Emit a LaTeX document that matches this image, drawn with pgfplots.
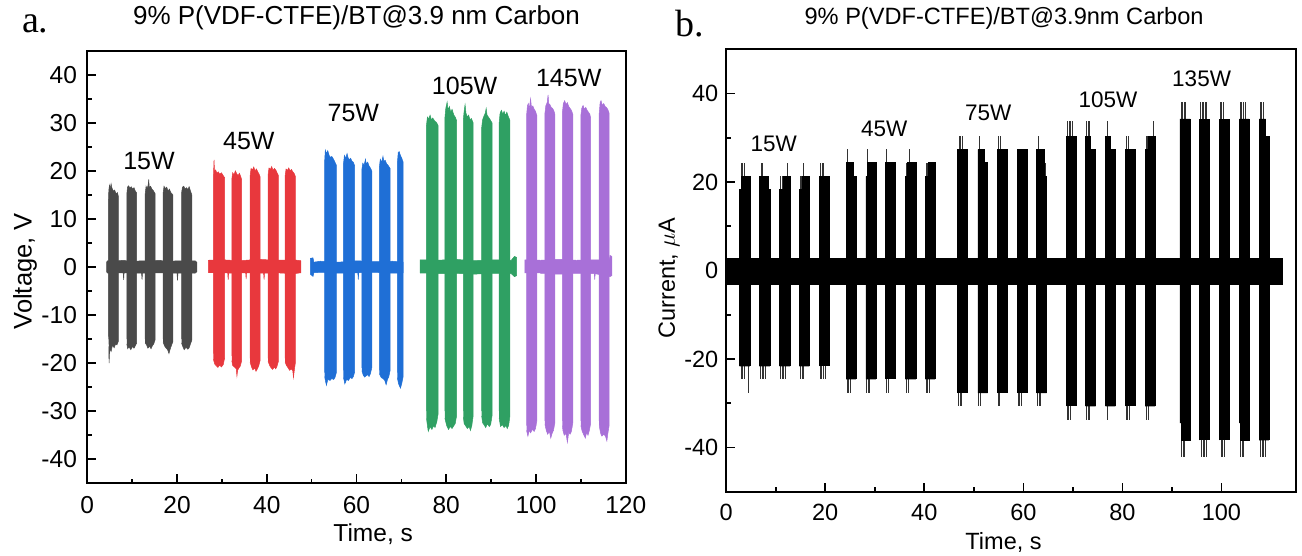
\documentclass[border=0pt]{standalone}
\usepackage{fontspec}
\setmainfont{Liberation Sans}
\newfontfamily\panelserif{Liberation Serif}
\usepackage{pgfplots}
\pgfplotsset{compat=1.18}

\definecolor{cgray}{HTML}{4A4A4A}
\definecolor{cred}{HTML}{E8383D}
\definecolor{cblue}{HTML}{1F6FD6}
\definecolor{cgreen}{HTML}{2FA063}
\definecolor{cpurple}{HTML}{A870D8}

\newcommand\fs[1]{\fontsize{#1}{#1}\selectfont}

\pgfplotsset{
  panel/.style={
    scale only axis, anchor=south west,
    axis line style={line width=0.9pt},
    tick align=inside, tick pos=left,
    major tick length=4.5pt, minor tick length=2.2pt,
    every tick/.style={black, line width=0.8pt},
    /pgf/number format/assume math mode=true,
    minor x tick num=1, minor y tick num=1,
  },
  burst/.style={fill=#1, draw=#1, line width=0.25pt},
  thin/.style={ycomb, black!80, line width=0.35pt},
}

\begin{document}
\begin{tikzpicture}
\useasboundingbox (0,0) rectangle (651pt,278pt);

\node[anchor=base west, inner sep=0pt, font=\panelserif\fs{19}] at (10.85pt,261.5pt) {a.};
\node[anchor=base west, inner sep=0pt, font=\panelserif\fs{19}] at (337.5pt,259.65pt) {b.};

% ---------------- panel a: voltage ----------------
\begin{axis}[panel, at={(43.65pt,36.35pt)}, width=269.2pt, height=216.3pt,
  xmin=0, xmax=120, ymin=-45, ymax=45,
  xtick={0,20,...,120}, ytick={-40,-30,...,40},
  xticklabel style={font=\fs{12.25}, inner sep=0pt, anchor=north, yshift=-6.5pt},
  yticklabel style={font=\fs{12.25}, inner sep=0pt, anchor=east, xshift=-5pt},
  title={9\% P(VDF-CTFE)/BT@3.9 nm Carbon},
  title style={font=\fs{13}, at={(0.5,1)}, anchor=base, yshift=7pt},
  xlabel={Time, s},
  xlabel style={font=\fs{12.25}, at={(axis description cs:0.531,0)}, anchor=base, yshift=-29.2pt},
  ylabel={Voltage, V},
  ylabel style={font=\fs{12.75}, at={(axis description cs:-0.1033,0.49)}, rotate=0, anchor=base},
]
% 15W
\addplot[burst=cgray] coordinates {(4.3,-1.1)(4.3,1.0)(4.5,1.3)(6.0,1.2)(8.0,1.4)(10.0,1.1)(12.0,1.3)(14.0,1.2)(16.0,1.4)(18.0,1.1)(20.0,1.3)(22.0,1.2)(24.0,1.3)(24.4,1.0)(24.4,-1.0)(24.0,-1.3)(22.0,-1.2)(20.2,-1.3)(20.1,-2.8)(20.0,-1.3)(16.0,-1.2)(12.3,-1.3)(12.2,-2.6)(12.1,-1.3)(8.2,-1.2)(8.1,-2.7)(8.0,-1.2)(4.5,-1.3)};
\addplot[burst=cgray] coordinates {(4.7,-14.5)(4.7,13.5)(4.8,16.0)(4.95,17.0)(5.1,16.2)(5.3,17.3)(5.5,16.4)(5.8,15.8)(6.1,16.0)(6.4,15.2)(6.7,15.5)(6.9,14.8)(6.9,-15.5)(6.6,-16.2)(6.3,-16.0)(6.0,-16.8)(5.6,-16.3)(5.3,-17.6)(5.0,-17.0)(4.85,-20.0)(4.8,-16.5)};
\addplot[burst=cgray] coordinates {(8.8,-15)(8.8,15)(8.95,16.6)(9.2,16.9)(9.5,16.4)(9.8,16.7)(10.1,16.2)(10.4,16.5)(10.7,15.8)(11.0,15.4)(11.0,-15.8)(10.7,-16.4)(10.4,-16.9)(10.1,-16.5)(9.7,-17.2)(9.3,-16.6)(9.0,-17.0)(8.8,-16.0)};
\addplot[burst=cgray] coordinates {(12.9,-15)(12.9,15.2)(13.1,16.8)(13.3,16.3)(13.55,17.0)(13.7,18.2)(13.8,16.6)(14.1,16.8)(14.4,16.2)(14.7,15.9)(15.1,15.3)(15.1,-15.2)(14.8,-16.0)(14.5,-16.4)(14.2,-17.0)(13.9,-16.5)(13.5,-16.9)(13.2,-16.2)(12.9,-15.8)};
\addplot[burst=cgray] coordinates {(16.9,-15)(16.9,15.4)(17.1,16.8)(17.4,16.3)(17.7,16.6)(18.0,15.8)(18.3,16.2)(18.6,15.5)(19.1,15.0)(19.1,-15.5)(18.8,-16.2)(18.5,-17.0)(18.2,-18.0)(17.9,-17.2)(17.5,-16.8)(17.2,-16.4)(16.9,-15.6)};
\addplot[burst=cgray] coordinates {(21.0,-15)(21.0,15.3)(21.2,16.6)(21.5,16.8)(21.8,16.2)(22.1,16.5)(22.4,16.1)(22.7,16.7)(23.0,15.8)(23.3,15.0)(23.3,-15.2)(23.0,-16.0)(22.7,-16.8)(22.4,-17.1)(22.0,-16.7)(21.6,-17.2)(21.3,-16.6)(21.0,-15.8)};
% 45W
\addplot[burst=cred] coordinates {(27.0,-1.2)(27.0,1.4)(30.0,1.5)(34.0,1.3)(38.0,1.6)(42.0,1.4)(46.0,1.5)(47.6,1.3)(47.6,-1.2)(46.0,-1.4)(42.0,-1.2)(39.5,-1.3)(39.4,-2.6)(39.3,-1.3)(35.5,-1.2)(35.4,-2.5)(35.3,-1.2)(31.5,-1.3)(31.4,-2.7)(31.3,-1.3)};
\addplot[burst=cred] coordinates {(28.1,-18)(28.1,18.5)(28.25,22.3)(28.35,19.8)(28.6,20.2)(28.9,19.5)(29.2,19.8)(29.5,19.3)(29.9,19.6)(30.3,19.0)(30.6,18.6)(30.6,-19)(30.3,-20.3)(29.9,-20.8)(29.5,-20.4)(29.1,-20.9)(28.7,-20.5)(28.4,-20.2)(28.1,-19.2)};
\addplot[burst=cred] coordinates {(32.2,-18.5)(32.2,18.2)(32.4,19.6)(32.7,19.2)(33.0,20.0)(33.3,19.4)(33.6,19.0)(33.9,19.5)(34.2,18.8)(34.4,18.2)(34.4,-19.5)(34.1,-20.6)(33.8,-21.0)(33.5,-21.5)(33.35,-22.7)(33.2,-21.2)(32.8,-20.8)(32.4,-20.5)(32.2,-19.5)};
\addplot[burst=cred] coordinates {(36.3,-19)(36.3,19.0)(36.5,20.5)(36.8,20.2)(37.1,20.8)(37.4,20.0)(37.7,20.4)(38.0,19.8)(38.3,19.3)(38.5,18.8)(38.5,-19.5)(38.2,-20.6)(37.9,-21.2)(37.6,-21.7)(37.3,-21.0)(36.9,-21.4)(36.6,-20.8)(36.3,-19.8)};
\addplot[burst=cred] coordinates {(40.3,-19)(40.3,19.2)(40.5,20.6)(40.8,20.3)(41.1,20.9)(41.4,20.1)(41.7,20.5)(42.0,20.2)(42.3,19.6)(42.6,19.0)(42.6,-19.6)(42.3,-20.6)(42.0,-21.2)(41.7,-20.8)(41.3,-21.3)(40.9,-20.9)(40.6,-20.4)(40.3,-19.6)};
\addplot[burst=cred] coordinates {(44.1,-19)(44.1,19.0)(44.3,20.4)(44.6,20.1)(44.9,20.6)(45.2,20.0)(45.5,20.3)(45.8,19.8)(46.1,19.5)(46.4,18.8)(46.4,-19.8)(46.2,-21.0)(45.95,-23.0)(45.8,-21.6)(45.5,-21.2)(45.1,-21.5)(44.7,-20.9)(44.4,-20.5)(44.1,-19.8)};
% 75W
\addplot[burst=cblue] coordinates {(49.7,-1.6)(49.7,1.8)(50.3,1.9)(50.5,1.0)(52.0,1.2)(56.0,1.0)(60.0,1.3)(64.0,1.1)(68.0,1.2)(70.4,1.0)(70.4,-1.2)(68.0,-1.3)(64.0,-1.1)(60.5,-1.2)(60.4,-2.6)(60.3,-1.2)(56.0,-1.3)(52.0,-1.1)(50.5,-1.2)(50.3,-2.0)};
\addplot[burst=cblue] coordinates {(52.9,-22)(52.9,22.0)(53.05,24.3)(53.3,23.6)(53.6,24.2)(53.9,23.2)(54.2,22.8)(54.5,23.0)(54.9,22.4)(55.2,21.8)(55.5,21.2)(55.5,-22.0)(55.2,-23.0)(54.9,-23.4)(54.5,-23.2)(54.1,-23.6)(53.6,-23.4)(53.3,-24.6)(53.1,-23.8)(52.9,-22.8)};
\addplot[burst=cblue] coordinates {(57.1,-21.5)(57.1,21.5)(57.3,23.2)(57.6,22.6)(57.9,23.6)(58.1,22.8)(58.4,22.3)(58.7,22.6)(59.0,22.0)(59.3,21.8)(59.6,21.0)(59.6,-21.8)(59.3,-22.8)(59.0,-23.2)(58.6,-23.0)(58.2,-23.6)(57.8,-23.4)(57.4,-24.3)(57.1,-23.0)};
\addplot[burst=cblue] coordinates {(61.2,-21)(61.2,20.3)(61.4,21.6)(61.7,21.2)(62.0,22.4)(62.2,21.4)(62.5,21.8)(62.8,21.0)(63.1,20.6)(63.4,20.0)(63.4,-21.0)(63.1,-22.2)(62.8,-22.8)(62.5,-22.4)(62.2,-22.6)(61.8,-22.9)(61.5,-22.5)(61.2,-21.6)};
\addplot[burst=cblue] coordinates {(65.1,-21.5)(65.1,20.8)(65.3,22.4)(65.6,21.8)(65.9,23.0)(66.1,22.0)(66.4,22.2)(66.7,21.5)(67.0,21.2)(67.5,20.5)(67.5,-21.5)(67.2,-22.8)(66.9,-23.4)(66.6,-24.5)(66.3,-23.6)(65.9,-23.2)(65.5,-23.0)(65.1,-22.2)};
\addplot[burst=cblue] coordinates {(69.1,-22)(69.1,21.5)(69.3,23.8)(69.5,24.0)(69.8,23.2)(70.1,22.6)(70.4,21.8)(70.4,-22.8)(70.1,-24.2)(69.8,-25.2)(69.5,-24.6)(69.3,-24.0)(69.1,-23.0)};
% 105W
\addplot[burst=cgreen] coordinates {(74.2,-1.3)(74.2,1.5)(78.0,1.4)(82.0,1.6)(86.0,1.3)(90.0,1.5)(94.5,1.4)(95.2,2.2)(95.7,2.0)(95.7,-1.8)(95.2,-2.0)(94.5,-1.4)(90.0,-1.3)(86.0,-1.5)(82.0,-1.3)(78.0,-1.4)};
\addplot[burst=cgreen] coordinates {(75.6,-30)(75.6,29.5)(75.8,31.2)(76.1,30.8)(76.4,31.6)(76.7,30.6)(77.0,31.0)(77.4,30.4)(77.8,30.1)(78.2,29.4)(78.2,-30.5)(77.9,-32.2)(77.5,-33.4)(77.2,-33.0)(76.8,-33.8)(76.4,-33.2)(76.0,-34.2)(75.8,-33.0)(75.6,-31.5)};
\addplot[burst=cgreen] coordinates {(79.7,-30)(79.7,31.0)(79.9,33.0)(80.2,34.3)(80.4,32.6)(80.7,33.4)(81.0,32.2)(81.3,32.8)(81.7,31.6)(82.0,31.2)(82.3,30.5)(82.3,-31.0)(82.0,-32.6)(81.7,-33.0)(81.3,-33.6)(80.9,-33.2)(80.5,-33.8)(80.1,-33.0)(79.7,-31.5)};
\addplot[burst=cgreen] coordinates {(83.8,-30)(83.8,30.5)(84.0,32.5)(84.2,33.8)(84.4,32.0)(84.7,31.2)(85.0,31.6)(85.3,30.6)(85.6,30.9)(86.0,30.0)(86.0,-31.0)(85.7,-33.0)(85.4,-34.0)(85.1,-33.2)(84.7,-33.6)(84.3,-33.0)(84.0,-32.6)(83.8,-31.2)};
\addplot[burst=cgreen] coordinates {(87.9,-30)(87.9,29.0)(88.1,30.6)(88.4,31.4)(88.7,32.0)(88.9,33.0)(89.1,31.6)(89.4,31.2)(89.7,30.8)(90.2,30.0)(90.2,-31.0)(89.9,-32.8)(89.6,-33.2)(89.2,-32.6)(88.8,-33.4)(88.4,-32.8)(88.1,-32.4)(87.9,-31.0)};
\addplot[burst=cgreen] coordinates {(91.8,-30)(91.8,30.0)(92.0,32.0)(92.3,32.6)(92.6,31.8)(92.9,32.4)(93.2,31.5)(93.5,32.2)(93.8,31.4)(94.2,30.5)(94.2,-31.0)(93.9,-33.0)(93.6,-33.6)(93.3,-33.0)(92.9,-33.4)(92.5,-32.8)(92.1,-33.2)(91.8,-31.5)};
% 145W
\addplot[burst=cpurple] coordinates {(97.5,-1.3)(97.5,1.5)(101.0,1.4)(105.0,1.6)(109.0,1.4)(113.0,1.5)(116.3,1.4)(116.5,2.4)(116.9,2.2)(116.9,-1.8)(116.5,-2.0)(113.2,-1.4)(113.1,-2.6)(113.0,-1.4)(109.0,-1.3)(105.0,-1.5)(101.0,-1.3)};
\addplot[burst=cpurple] coordinates {(97.9,-33)(97.9,31.5)(98.1,33.6)(98.3,34.0)(98.5,32.8)(98.8,35.0)(99.0,33.2)(99.3,33.5)(99.6,32.8)(99.9,32.4)(100.2,31.5)(100.2,-32.0)(99.9,-33.6)(99.6,-34.2)(99.2,-33.8)(98.8,-34.5)(98.5,-34.0)(98.2,-35.2)(97.9,-34.0)};
\addplot[burst=cpurple] coordinates {(102.0,-32)(102.0,32.0)(102.2,33.6)(102.5,34.2)(102.7,35.8)(102.85,34.0)(103.1,33.8)(103.4,33.2)(103.7,33.0)(104.0,32.5)(104.2,31.8)(104.2,-32.5)(103.9,-34.0)(103.6,-34.6)(103.3,-35.6)(103.0,-34.2)(102.6,-34.8)(102.3,-34.0)(102.0,-32.8)};
\addplot[burst=cpurple] coordinates {(105.9,-32)(105.9,32.2)(106.1,34.0)(106.4,34.6)(106.7,33.8)(107.0,34.2)(107.3,33.4)(107.6,33.0)(107.9,32.6)(108.2,31.8)(108.2,-32.5)(107.9,-34.2)(107.6,-34.8)(107.3,-34.4)(107.0,-36.5)(106.7,-34.6)(106.3,-35.0)(106.0,-34.0)(105.9,-33)};
\addplot[burst=cpurple] coordinates {(110.0,-32)(110.0,31.5)(110.2,33.0)(110.5,33.6)(110.8,32.8)(111.1,33.2)(111.4,32.6)(111.7,32.2)(112.0,31.8)(112.2,31.0)(112.2,-32.5)(111.9,-34.0)(111.6,-35.0)(111.3,-34.4)(111.0,-35.6)(110.6,-34.8)(110.3,-34.2)(110.0,-33.0)};
\addplot[burst=cpurple] coordinates {(114.1,-32)(114.1,32.0)(114.3,34.2)(114.5,34.6)(114.8,33.6)(115.1,34.0)(115.4,33.4)(115.7,33.2)(116.0,32.8)(116.3,32.0)(116.3,-33.0)(116.0,-34.8)(115.8,-36.2)(115.5,-35.2)(115.1,-34.8)(114.7,-35.2)(114.4,-34.6)(114.1,-33.0)};

\node[anchor=base, font=\fs{12.5}] at (axis cs:13.75,20.2) {15W};
\node[anchor=base, font=\fs{12.5}] at (axis cs:36.0,24.4) {45W};
\node[anchor=base, font=\fs{12.5}] at (axis cs:59.3,30.3) {75W};
\node[anchor=base, font=\fs{12.5}] at (axis cs:84.1,35.8) {105W};
\node[anchor=base, font=\fs{12.5}] at (axis cs:107.3,37.5) {145W};
\end{axis}

% ---------------- panel b: current ----------------
\begin{axis}[panel, at={(363.1pt,32.15pt)}, width=284.75pt, height=221.2pt,
  xmin=0, xmax=115, ymin=-50, ymax=50,
  xtick={0,20,...,100}, ytick={-40,-20,...,40},
  xticklabel style={font=\fs{11.75}, inner sep=0pt, anchor=north, yshift=-5.8pt},
  yticklabel style={font=\fs{11.75}, inner sep=0pt, anchor=east, xshift=-3.75pt},
  title={9\% P(VDF-CTFE)/BT@3.9nm Carbon},
  title style={font=\fs{11.8}, at={(0.488,1)}, anchor=base, yshift=6.3pt},
  xlabel={Time, s},
  xlabel style={font=\fs{11.75}, at={(axis description cs:0.487,0)}, anchor=base, yshift=-29.15pt},
  ylabel={Current, $\mu$A},
  ylabel style={font=\fs{11.75}, at={(axis description cs:-0.09,0.483)}, rotate=0, anchor=base},
]
% thin spikes beyond the solid blocks (drawn first, blocks cover their lower parts)
\addplot[thin] coordinates {(3.0,24.4)(3.3,24.4)(3.6,24.4)(7.0,24.4)(7.3,24.4)(11.0,21.3)(11.3,21.3)(12.4,24.4)(15.0,21.3)(15.2,21.3)(15.6,24.4)(19.0,24.4)(19.4,24.4)(19.7,24.4)};
\addplot[thin] coordinates {(3.0,-24.6)(3.3,-24.6)(3.6,-24.6)(4.5,-27.7)(6.9,-24.6)(7.3,-24.6)(7.6,-24.6)(8.0,-24.6)(11.0,-24.6)(11.3,-24.6)(11.6,-24.6)(11.9,-24.6)(15.0,-24.6)(15.3,-24.6)(15.6,-24.6)(19.0,-24.6)(19.3,-24.6)(19.7,-24.6)(20.0,-24.6)};
\addplot[thin] coordinates {(24.4,27.4)(28.6,27.4)(32.4,27.4)(36.4,24.4)(37.0,27.4)(40.4,24.4)(40.7,24.4)(41.1,24.4)};
\addplot[thin] coordinates {(24.4,-27.7)(24.7,-27.7)(25.0,-27.7)(28.4,-27.7)(28.7,-27.7)(29.0,-27.7)(32.4,-27.7)(32.8,-27.7)(36.4,-27.7)(36.7,-27.7)(40.4,-27.7)(40.7,-27.7)(41.0,-27.7)};
\addplot[thin] coordinates {(47.0,30.4)(47.3,30.4)(47.6,30.4)(51.2,30.4)(55.0,30.4)(55.4,30.4)(63.0,30.4)(64.4,24.4)};
\addplot[thin] coordinates {(46.9,-30.7)(47.2,-30.7)(47.5,-30.7)(51.0,-30.7)(51.3,-30.7)(54.9,-30.7)(55.2,-30.7)(58.9,-30.7)(59.2,-30.7)(59.5,-30.7)(62.9,-30.7)(63.2,-30.7)(63.5,-30.7)};
\addplot[thin] coordinates {(68.9,33.8)(69.2,33.8)(69.5,33.8)(69.8,33.8)(72.8,33.8)(73.1,33.8)(73.4,33.8)(77.0,33.8)(80.8,30.4)(81.2,30.4)(84.8,30.4)(85.1,30.4)(86.2,33.8)};
\addplot[thin] coordinates {(68.8,-33.8)(69.1,-33.8)(69.4,-33.8)(72.8,-33.8)(73.1,-33.8)(73.4,-33.8)(77.0,-33.8)(80.8,-33.8)(81.1,-33.8)(81.4,-33.8)(84.8,-33.8)(85.2,-33.8)};
\addplot[thin] coordinates {(91.9,38.1)(92.2,38.1)(92.5,38.1)(92.8,38.1)(95.8,38.1)(96.1,38.1)(96.4,38.1)(96.7,38.1)(97.0,38.1)(99.7,38.1)(100.0,38.1)(100.3,38.1)(103.8,38.1)(104.1,38.1)(104.5,38.1)(104.9,38.1)(107.8,38.1)(108.1,38.1)(108.4,38.1)};
\addplot[thin] coordinates {(92.0,-42.2)(92.3,-42.2)(92.6,-42.2)(96.0,-42.2)(96.3,-42.2)(96.6,-42.2)(96.9,-42.2)(99.9,-42.2)(100.2,-42.2)(100.5,-42.2)(103.9,-42.2)(104.2,-42.2)(104.5,-42.2)(107.9,-42.2)(108.2,-42.2)(108.5,-42.2)(108.8,-42.2)};
% baseline band
\addplot[burst=black] coordinates {(0,-3.2)(0,2.8)(112.3,2.8)(112.3,-3.2)};
% 15W
\addplot[burst=black] coordinates {(2.7,-21.7)(2.7,18.3)(3.0,18.3)(3.0,21.3)(4.8,21.3)(4.8,-21.7)};
\addplot[burst=black] coordinates {(6.7,-21.7)(6.7,21.3)(8.5,21.3)(8.5,18.3)(8.8,18.3)(8.8,-21.7)};
\addplot[burst=black] coordinates {(10.8,-21.7)(10.8,18.3)(11.6,18.3)(11.6,21.3)(12.9,21.3)(12.9,-21.7)};
\addplot[burst=black] coordinates {(14.8,-21.7)(14.8,18.3)(15.4,18.3)(15.4,21.3)(16.8,21.3)(16.8,-21.7)};
\addplot[burst=black] coordinates {(18.8,-21.7)(18.8,21.3)(20.8,21.3)(20.8,-21.7)};
% 45W
\addplot[burst=black] coordinates {(24.2,-24.6)(24.2,24.4)(25.6,24.4)(25.6,21.3)(26.2,21.3)(26.2,-24.6)};
\addplot[burst=black] coordinates {(28.2,-24.6)(28.2,21.3)(28.5,21.3)(28.5,24.4)(30.2,24.4)(30.2,-24.6)};
\addplot[burst=black] coordinates {(32.2,-24.6)(32.2,24.4)(34.2,24.4)(34.2,-24.6)};
\addplot[burst=black] coordinates {(36.2,-24.6)(36.2,21.3)(36.6,21.3)(36.6,24.4)(38.3,24.4)(38.3,-24.6)};
\addplot[burst=black] coordinates {(40.2,-24.6)(40.2,21.3)(40.8,21.3)(40.8,24.4)(42.2,24.4)(42.2,-24.6)};
% 75W
\addplot[burst=black] coordinates {(46.7,-27.7)(46.7,27.4)(48.7,27.4)(48.7,-27.7)};
\addplot[burst=black] coordinates {(50.8,-27.7)(50.8,27.4)(52.2,27.4)(52.2,24.4)(52.8,24.4)(52.8,-27.7)};
\addplot[burst=black] coordinates {(54.7,-27.7)(54.7,27.4)(56.7,27.4)(56.7,-27.7)};
\addplot[burst=black] coordinates {(58.7,-27.7)(58.7,27.4)(60.8,27.4)(60.8,-27.7)};
\addplot[burst=black] coordinates {(62.7,-27.7)(62.7,27.4)(64.2,27.4)(64.2,21.3)(64.7,21.3)(64.7,-27.7)};
% 105W
\addplot[burst=black] coordinates {(68.6,-30.7)(68.6,30.4)(70.7,30.4)(70.7,-30.7)};
\addplot[burst=black] coordinates {(72.6,-30.7)(72.6,30.4)(73.6,30.4)(73.6,27.4)(74.6,27.4)(74.6,-30.7)};
\addplot[burst=black] coordinates {(76.6,-30.7)(76.6,30.4)(77.5,30.4)(77.5,27.4)(78.6,27.4)(78.6,-30.7)};
\addplot[burst=black] coordinates {(80.5,-30.7)(80.5,27.4)(82.6,27.4)(82.6,-30.7)};
\addplot[burst=black] coordinates {(84.6,-30.7)(84.6,27.4)(85.3,27.4)(85.3,30.4)(86.6,30.4)(86.6,-30.7)};
% 135W
\addplot[burst=black] coordinates {(91.6,-34.5)(91.6,34.3)(93.7,34.3)(93.7,-38.4)(91.9,-38.4)(91.9,-34.5)};
\addplot[burst=black] coordinates {(95.6,-38.4)(95.6,34.3)(97.6,34.3)(97.6,-38.4)};
\addplot[burst=black] coordinates {(99.5,-38.4)(99.5,34.3)(101.6,34.3)(101.6,-38.4)};
\addplot[burst=black] coordinates {(103.6,-34.5)(103.6,34.3)(105.6,34.3)(105.6,-38.4)(103.9,-38.4)(103.9,-34.5)};
\addplot[burst=black] coordinates {(107.6,-38.4)(107.6,34.3)(108.9,34.3)(108.9,30.4)(109.6,30.4)(109.6,-38.4)};

\node[anchor=base, font=\fs{11.25}] at (axis cs:9.6,27.0) {15W};
\node[anchor=base, font=\fs{11.25}] at (axis cs:31.9,30.4) {45W};
\node[anchor=base, font=\fs{11.25}] at (axis cs:52.9,33.8) {75W};
\node[anchor=base, font=\fs{11.25}] at (axis cs:77.1,36.8) {105W};
\node[anchor=base, font=\fs{11.25}] at (axis cs:96.0,41.6) {135W};
\end{axis}
\end{tikzpicture}
\end{document}
